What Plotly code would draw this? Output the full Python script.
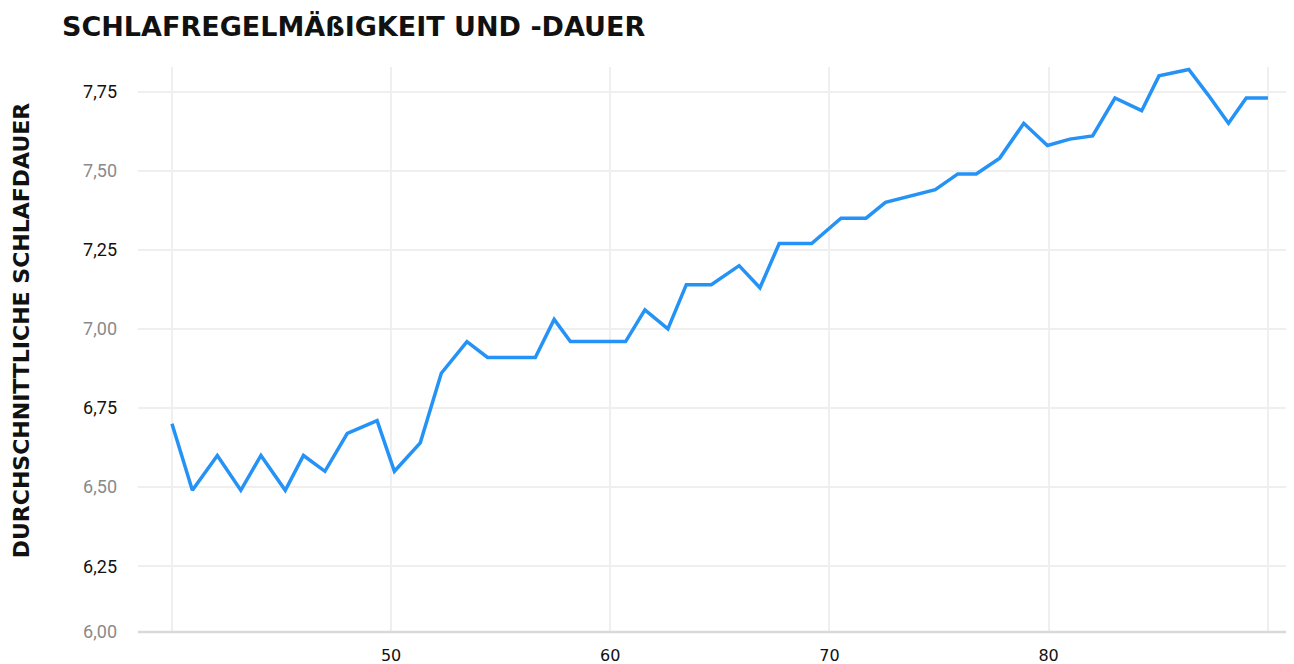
import plotly.graph_objects as go

# Age (x) and average sleep duration (y)
age = [40.00, 40.93, 42.07, 43.14, 44.06, 45.17, 46.00, 46.98, 48.00, 49.36,
       50.15, 51.33, 52.29, 53.46, 54.40, 55.50, 56.58, 57.44, 58.18, 59.43,
       60.70, 61.58, 62.63, 63.47, 64.61, 65.88, 66.83, 67.71, 68.44, 69.19,
       70.53, 71.67, 72.56, 73.70, 74.83, 75.86, 76.70, 77.77, 78.87, 79.95,
       80.97, 82.01, 83.03, 84.25, 85.04, 86.40, 87.28, 88.21, 89.02, 90.01]
sleep = [6.70, 6.49, 6.60, 6.49, 6.60, 6.49, 6.60, 6.55, 6.67, 6.71,
         6.55, 6.64, 6.86, 6.96, 6.91, 6.91, 6.91, 7.03, 6.96, 6.96,
         6.96, 7.06, 7.00, 7.14, 7.14, 7.20, 7.13, 7.27, 7.27, 7.27,
         7.35, 7.35, 7.40, 7.42, 7.44, 7.49, 7.49, 7.54, 7.65, 7.58,
         7.60, 7.61, 7.73, 7.69, 7.80, 7.82, 7.74, 7.65, 7.73, 7.73]

x_tickvals = [40, 50, 60, 70, 80, 90]
x_ticktext = ["", "50", "60", "70", "80", ""]

y_min, y_max = 6.042, 7.828
y_tickvals = [y_min, 6.25, 6.50, 6.75, 7.00, 7.25, 7.50, 7.75]
y_labels = ["6,00", "6,25", "6,50", "6,75", "7,00", "7,25", "7,50", "7,75"]
y_label_colors = ["#8a8a8a", "#111111", "#8a8a8a", "#111111",
                  "#8a8a8a", "#111111", "#8a8a8a", "#111111"]
y_ticktext = [f"<span style='color:{c}'>{t}</span>" for t, c in zip(y_labels, y_label_colors)]

title_text = "SCHLAFREGELMÄßIGKEIT UND -DAUER"
y_title_text = "DURCHSCHNITTLICHE SCHLAFDAUER"

# page body adds an 8px offset, so the figure is 8px smaller than the window
W, H = 1286, 656
L, R, T, B = 130, 0, 59, 32

fig = go.Figure()
fig.add_trace(go.Scatter(
    x=age, y=sleep, mode="lines",
    line=dict(color="#2592f5", width=3.5),
    hoverinfo="x+y", showlegend=False,
))

fig.update_layout(
    width=W, height=H,
    paper_bgcolor="white", plot_bgcolor="white",
    margin=dict(l=L, r=R, t=T, b=B),
    title=dict(
        text=title_text,
        x=54 / W, xanchor="left", xref="container",
        y=1 - 19 / H, yanchor="middle", yref="container",
        font=dict(family="DejaVu Sans", size=27, color="#111111", weight="bold"),
    ),
    xaxis=dict(
        range=[38.45, 91.2],
        tickvals=x_tickvals, ticktext=x_ticktext,
        showgrid=True, gridcolor="#efefef", gridwidth=2,
        zeroline=False,
        showline=False,
        ticks="", ticklabelstandoff=12,
        tickfont=dict(family="DejaVu Sans", size=16, color="#111111"),
    ),
    yaxis=dict(
        range=[y_min, y_max],
        tickvals=y_tickvals, ticktext=y_ticktext,
        showgrid=True, gridcolor="#efefef", gridwidth=2,
        zeroline=False, showline=False,
        ticks="", ticklabelstandoff=20,
        tickfont=dict(family="Roboto", size=18, color="#111111"),
    ),
    annotations=[dict(
        text=y_title_text, textangle=-90,
        xref="paper", yref="paper",
        x=(13 - L) / (W - L - R), y=(623.7 - 322) / (H - T - B),
        xanchor="center", yanchor="middle", showarrow=False,
        font=dict(family="DejaVu Sans", size=22, color="#111111", weight="bold"),
    )],
    shapes=[dict(
        type="line", xref="paper", yref="paper",
        x0=0, x1=1, y0=0, y1=0,
        line=dict(color="#d9d9d9", width=2.5), layer="above",
    )],
)

fig.write_html("out.html")
